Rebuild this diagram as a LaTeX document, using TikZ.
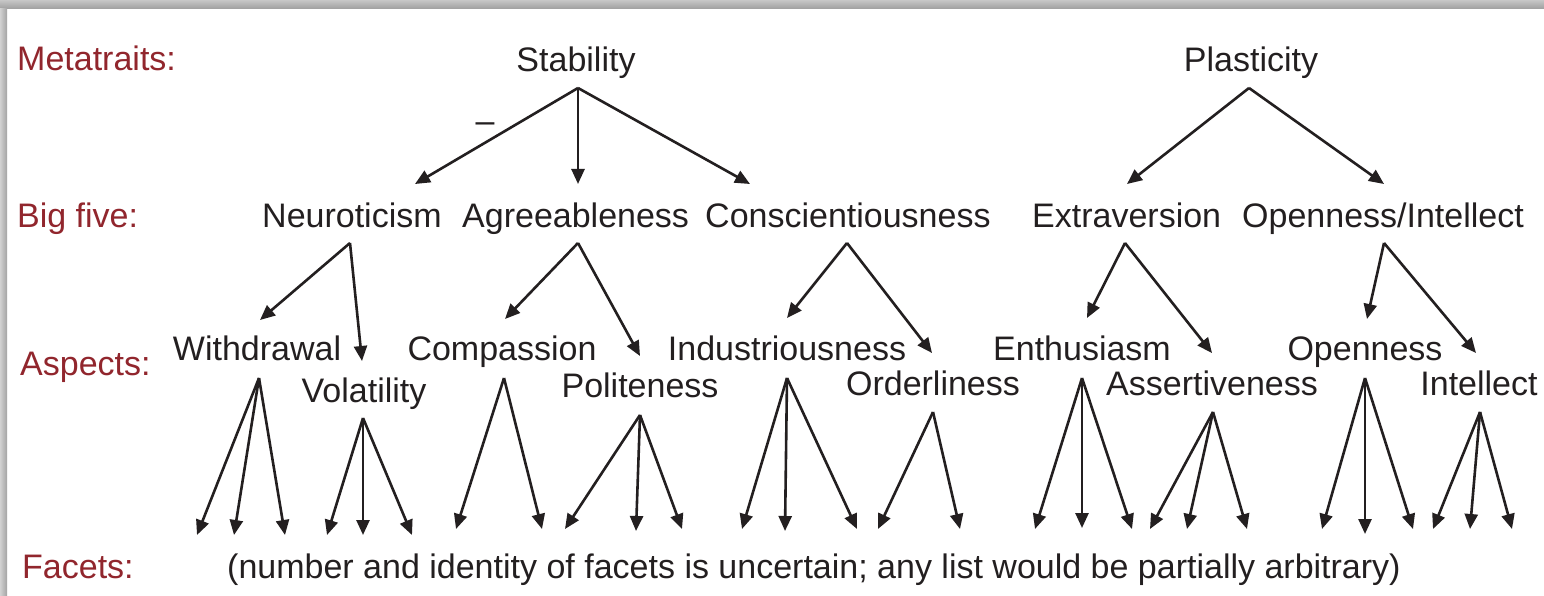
\documentclass[tikz,border=0pt]{standalone}
\usepackage{fontspec}
\setmainfont{Liberation Sans}
\usetikzlibrary{arrows.meta}
\definecolor{ink}{RGB}{35,31,32}
\definecolor{lab}{RGB}{145,38,45}
\begin{document}
\begin{tikzpicture}[x=1pt,y=-1pt,
  txt/.style={inner sep=0pt, text=ink, font=\fontsize{34}{40}\selectfont},
  lbl/.style={txt, text=lab, anchor=base west},
  arr/.style={draw=ink, line width=2.6pt, -{Triangle[length=15pt,width=13pt]}}]
\useasboundingbox (0,0) rectangle (1544,596);
\fill[white] (0,0) rectangle (1544,596);
\shade[top color=black!22, bottom color=black!38] (0,0) rectangle (1544,9);
\shade[left color=black!18, right color=black!36] (0,9) rectangle (7,596);

% row labels
\node[lbl] (meta) at (17,71) {Metatraits:};
\node[lbl] (big) at (17,227) {Big five:};
\node[lbl] (asp) at (20,375) {Aspects:};
\node[lbl] (fac) at (22,578) {Facets:};

% metatraits
\node[txt, anchor=base] (stab) at (576,72) {Stability};
\node[txt, anchor=base] (plas) at (1251,72) {Plasticity};
\node[txt, anchor=base] (minus) at (485,133) {–};

% big five
\node[txt, anchor=base west] (neu) at (262,227) {Neuroticism};
\node[txt, anchor=base west] (agr) at (462,227) {Agreeableness};
\node[txt, anchor=base west] (con) at (705,227) {Conscientiousness};
\node[txt, anchor=base west] (ext) at (1032,227) {Extraversion};
\node[txt, anchor=base west] (opi) at (1242,227) {Openness/Intellect};

% aspects
\node[txt, anchor=base] (wit) at (257,360) {Withdrawal};
\node[txt, anchor=base] (vol) at (364,402) {Volatility};
\node[txt, anchor=base] (com) at (502,360) {Compassion};
\node[txt, anchor=base] (pol) at (640,397) {Politeness};
\node[txt, anchor=base] (ind) at (787,360) {Industriousness};
\node[txt, anchor=base] (ord) at (933,395) {Orderliness};
\node[txt, anchor=base] (ent) at (1082,360) {Enthusiasm};
\node[txt, anchor=base] (ass) at (1212,395) {Assertiveness};
\node[txt, anchor=base] (ope) at (1365,360) {Openness};
\node[txt, anchor=base] (int) at (1479,395) {Intellect};

% facets
\node[txt, anchor=base west] (facets) at (227,578) {(number and identity of facets is uncertain; any list would be partially arbitrary)};

% apex coordinates
\coordinate (stabA) at (578,88);
\coordinate (plasA) at (1249,88);
\coordinate (neuA) at (350,243);
\coordinate (agrA) at (578,243);
\coordinate (conA) at (847,243);
\coordinate (extA) at (1125,243);
\coordinate (opiA) at (1384,243);

\coordinate (witA) at (259,378);
\coordinate (volA) at (363,418);
\coordinate (comA) at (504,378);
\coordinate (polA) at (640,415);
\coordinate (indA) at (787,378);
\coordinate (ordA) at (933,412);
\coordinate (entA) at (1082,378);
\coordinate (assA) at (1213,412);
\coordinate (opeA) at (1365,378);
\coordinate (intA) at (1480,412);

% metatraits -> big five
\coordinate (tNeu) at (415,184);
\coordinate (tAgr) at (578,184);
\coordinate (tCon) at (750,184);
\coordinate (tExt) at (1127,184);
\coordinate (tOpi) at (1384,184);
\draw[arr] (stabA) -- (tNeu);
\draw[arr] (stabA) -- (tAgr);
\draw[arr] (stabA) -- (tCon);
\draw[arr] (plasA) -- (tExt);
\draw[arr] (plasA) -- (tOpi);

% big five -> aspects
\coordinate (tWit) at (260,320);
\coordinate (tVol) at (362,361);
\coordinate (tCom) at (505,319);
\coordinate (tPol) at (640,356);
\coordinate (tInd) at (787,318);
\coordinate (tOrd) at (932,353);
\coordinate (tEnt) at (1087,318);
\coordinate (tAss) at (1212,353);
\coordinate (tOpe) at (1367,319);
\coordinate (tInt) at (1476,353);
\draw[arr] (neuA) -- (tWit);
\draw[arr] (neuA) -- (tVol);
\draw[arr] (agrA) -- (tCom);
\draw[arr] (agrA) -- (tPol);
\draw[arr] (conA) -- (tInd);
\draw[arr] (conA) -- (tOrd);
\draw[arr] (extA) -- (tEnt);
\draw[arr] (extA) -- (tAss);
\draw[arr] (opiA) -- (tOpe);
\draw[arr] (opiA) -- (tInt);

% aspects -> facets
\foreach \a/\tx/\ty [count=\i] in {
  witA/197/535, witA/234/535, witA/285/535,
  volA/327/535, volA/363/535, volA/412/535,
  comA/456/529, comA/542/529,
  polA/565/529, polA/636/531, polA/682/529,
  indA/742/529, indA/785/531, indA/857/529,
  ordA/878/529, ordA/960/529,
  entA/1035/529, entA/1082/528, entA/1132/529,
  assA/1150/529, assA/1187/529, assA/1247/529,
  opeA/1322/529, opeA/1365/534, opeA/1413/529,
  intA/1433/529, intA/1470/529, intA/1512/529}{
  \coordinate (f\i) at (\tx,\ty);
  \draw[arr] (\a) -- (f\i);
}
\end{tikzpicture}
\end{document}
